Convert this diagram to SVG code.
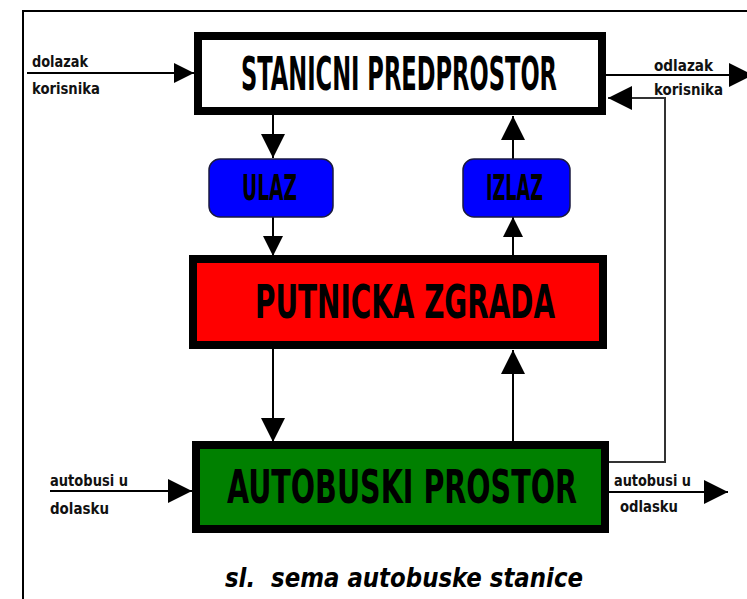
<svg xmlns="http://www.w3.org/2000/svg" width="747" height="599" viewBox="0 0 747 599">
<style>
.frame{fill:none;stroke:#000;stroke-width:2}
.box{stroke:#000;stroke-width:8}
.pill{fill:#0000ff;stroke:#1a1a40;stroke-width:1.5}
.big{font-family:"DejaVu Sans Condensed","DejaVu Sans",sans-serif;font-weight:bold;font-size:46px;fill:#000}
.mid{font-family:"DejaVu Sans Condensed","DejaVu Sans",sans-serif;font-weight:bold;font-size:36px;fill:#000}
.lbl{font-family:"DejaVu Sans Condensed","DejaVu Sans",sans-serif;font-weight:bold;font-size:16px;fill:#111}
.cap{font-family:"DejaVu Sans Condensed","DejaVu Sans",sans-serif;font-weight:bold;font-style:italic;font-size:26px;fill:#000}
.con{fill:none;stroke:#000;stroke-width:2}
.ret{fill:none;stroke:#333;stroke-width:2}
</style>
<defs>
<marker id="ah" viewBox="0 0 24 24" markerWidth="24" markerHeight="24" refX="24" refY="12" orient="auto" markerUnits="userSpaceOnUse"><path d="M0,0 L24,12 L0,24 z" fill="#000"/></marker>
<marker id="ahs" viewBox="0 0 20 20" markerWidth="20" markerHeight="20" refX="20" refY="10" orient="auto" markerUnits="userSpaceOnUse"><path d="M0,0 L20,10 L0,20 z" fill="#000"/></marker>
</defs>
<rect width="747" height="599" fill="#fff"/>
<path class="frame" d="M23,599 V11 H747"/>

<g id="connectors">
<line class="con" x1="27" y1="73" x2="194" y2="73" marker-end="url(#ahs)"/>
<line class="con" x1="606" y1="75" x2="753" y2="75" marker-end="url(#ah)"/>
<polyline class="ret" points="609,462 665,462 665,98 608,98" marker-end="url(#ah)"/>
<line class="con" x1="273" y1="115" x2="273" y2="158" marker-end="url(#ah)"/>
<line class="con" x1="273" y1="217" x2="273" y2="256" marker-end="url(#ahs)"/>
<line class="con" x1="273" y1="349" x2="273" y2="442" marker-end="url(#ah)"/>
<line class="con" x1="513" y1="441" x2="513" y2="350" marker-end="url(#ah)"/>
<line class="con" x1="513" y1="255" x2="513" y2="217" marker-end="url(#ahs)"/>
<line class="con" x1="513" y1="159" x2="513" y2="116" marker-end="url(#ah)"/>
<line class="con" x1="50" y1="491" x2="192" y2="491" marker-end="url(#ah)"/>
<line class="con" x1="609" y1="492" x2="728" y2="492" marker-end="url(#ah)"/>
</g>

<g id="stanicni">
<rect class="box" x="198" y="36" width="404" height="75" fill="#fff"/>
<text class="big" x="241" y="90" textLength="316" lengthAdjust="spacingAndGlyphs">STANICNI PREDPROSTOR</text>
</g>

<g id="ulaz">
<rect class="pill" x="209" y="159" width="124" height="58" rx="11"/>
<text class="mid" x="242" y="200" textLength="55" lengthAdjust="spacingAndGlyphs">ULAZ</text>
</g>

<g id="izlaz">
<rect class="pill" x="463" y="159" width="107" height="58" rx="11"/>
<text class="mid" x="486" y="200" textLength="57" lengthAdjust="spacingAndGlyphs">IZLAZ</text>
</g>

<g id="putnicka">
<rect class="box" x="193" y="259" width="410" height="86" fill="#ff0000"/>
<text class="big" x="255" y="318" textLength="300" lengthAdjust="spacingAndGlyphs">PUTNICKA ZGRADA</text>
</g>

<g id="autobuski">
<rect class="box" x="196" y="445" width="409" height="84" fill="#008000"/>
<text class="big" x="227" y="503" textLength="350" lengthAdjust="spacingAndGlyphs">AUTOBUSKI PROSTOR</text>
</g>

<g id="labels">
<text class="lbl" x="32" y="67" textLength="56" lengthAdjust="spacingAndGlyphs">dolazak</text>
<text class="lbl" x="32" y="94" textLength="68" lengthAdjust="spacingAndGlyphs">korisnika</text>
<text class="lbl" x="654" y="71" textLength="59" lengthAdjust="spacingAndGlyphs">odlazak</text>
<text class="lbl" x="654" y="95" textLength="69" lengthAdjust="spacingAndGlyphs">korisnika</text>
<text class="lbl" x="50" y="486" textLength="78" lengthAdjust="spacingAndGlyphs">autobusi u</text>
<text class="lbl" x="50" y="514" textLength="59" lengthAdjust="spacingAndGlyphs">dolasku</text>
<text class="lbl" x="614" y="486" textLength="77" lengthAdjust="spacingAndGlyphs">autobusi u</text>
<text class="lbl" x="620" y="512" textLength="58" lengthAdjust="spacingAndGlyphs">odlasku</text>
</g>

<g id="caption">
<text class="cap" x="225" y="587" textLength="358" lengthAdjust="spacingAndGlyphs" xml:space="preserve">sl.  sema autobuske stanice</text>
</g>
</svg>
